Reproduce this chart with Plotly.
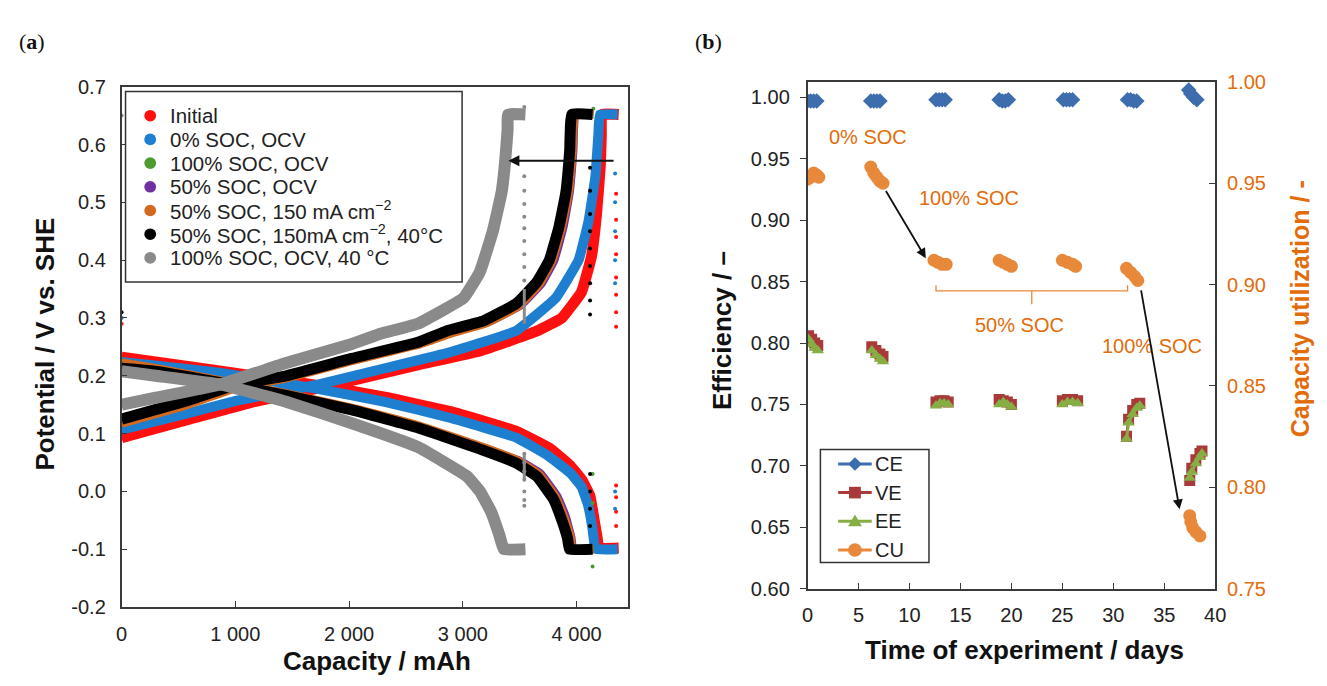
import plotly.graph_objects as go

FONT = "Liberation Sans"
# The page adds an 8 px body margin, so the figure is 16 px smaller than the 1327x686 window.
FW, FH = 1311, 670
OFF = 8


def X(p):  # window pixel -> paper x
    return (p - OFF) / FW


def Y(p):  # window pixel -> paper y
    return 1 - (p - OFF) / FH


# ---------------- Panel (a) data : capacity (mAh) vs potential (V vs. SHE) ----------------
series_names = ["Initial", "0% SOC, OCV", "100% SOC, OCV", "50% SOC, OCV",
                "50% SOC, 150 mA cm<sup>\u22122</sup>",
                "50% SOC, 150mA cm<sup>\u22122</sup>, 40\u00b0C",
                "100% SOC, OCV, 40 \u00b0C"]
series_colors = ["#FF1010", "#1E7FD0", "#4E9A2E", "#7030A0", "#D2691E", "#000000", "#8A8A8A"]

# Initial (red)
initial_chg_cap = [0, 578, 1157, 1880, 2603, 3150, 3644, 3870, 4043, 4130, 4174, 4208, 4217, 4222, 4370]
initial_chg_v   = [0.093, 0.124, 0.155, 0.185, 0.219, 0.243, 0.277, 0.30, 0.345, 0.406, 0.478, 0.562, 0.617, 0.652, 0.652]
initial_dis_cap = [0, 800, 1735, 2314, 2892, 3470, 3760, 3937, 4045, 4117, 4152, 4181, 4195, 4370]
initial_dis_v   = [0.232, 0.21, 0.183, 0.163, 0.138, 0.104, 0.075, 0.046, 0.02, -0.008, -0.047, -0.081, -0.098, -0.098]
# 0% SOC, OCV (blue)
soc0_chg_cap = [0, 578, 1012, 1735, 2314, 2892, 3470, 3818, 4017, 4104, 4165, 4191, 4205, 4360]
soc0_chg_v   = [0.107, 0.135, 0.157, 0.185, 0.213, 0.241, 0.278, 0.335, 0.40, 0.467, 0.545, 0.617, 0.652, 0.652]
soc0_dis_cap = [0, 868, 1735, 2314, 2892, 3470, 3747, 3944, 4043, 4102, 4136, 4156, 4166, 4360]
soc0_dis_v   = [0.224, 0.205, 0.177, 0.155, 0.127, 0.093, 0.062, 0.032, 0.008, -0.025, -0.06, -0.09, -0.1, -0.1]
# 100% SOC, OCV (green)
soc100_chg_cap = [0, 578, 1012, 1446, 2024, 2603, 2900, 3200, 3490, 3675, 3785, 3868, 3928, 3962, 3982, 4150]
soc100_chg_v   = [0.12, 0.152, 0.181, 0.197, 0.227, 0.255, 0.275, 0.292, 0.322, 0.36, 0.40, 0.457, 0.517, 0.59, 0.652, 0.652]
soc100_dis_cap = [0, 289, 955, 1446, 2024, 2603, 3181, 3480, 3665, 3815, 3890, 3945, 3962, 4150]
soc100_dis_v   = [0.218, 0.211, 0.187, 0.168, 0.143, 0.113, 0.075, 0.052, 0.03, -0.01, -0.045, -0.08, -0.1, -0.1]
# 50% SOC, OCV (purple)
soc50_chg_cap = [0, 578, 1012, 1446, 2024, 2603, 2900, 3220, 3510, 3695, 3805, 3885, 3940, 3972, 3990, 4145]
soc50_chg_v   = [0.12, 0.152, 0.181, 0.197, 0.227, 0.255, 0.275, 0.292, 0.322, 0.36, 0.40, 0.457, 0.517, 0.59, 0.652, 0.652]
soc50_dis_cap = [0, 289, 955, 1446, 2024, 2603, 3181, 3490, 3680, 3830, 3905, 3955, 3970, 4145]
soc50_dis_v   = [0.218, 0.211, 0.187, 0.168, 0.143, 0.113, 0.075, 0.054, 0.032, -0.008, -0.043, -0.08, -0.1, -0.1]
# 50% SOC, 150 mA cm-2 (orange)
soc50c_chg_cap = [0, 578, 1012, 1446, 2024, 2603, 2900, 3200, 3490, 3675, 3785, 3868, 3928, 3962, 3982, 4145]
soc50c_chg_v   = [0.118, 0.15, 0.18, 0.196, 0.226, 0.254, 0.274, 0.291, 0.321, 0.36, 0.40, 0.457, 0.517, 0.59, 0.652, 0.652]
soc50c_dis_cap = [0, 289, 955, 1446, 2024, 2603, 3181, 3480, 3665, 3815, 3890, 3945, 3962, 4145]
soc50c_dis_v   = [0.222, 0.213, 0.188, 0.169, 0.144, 0.114, 0.076, 0.053, 0.03, -0.01, -0.045, -0.08, -0.1, -0.1]
# 50% SOC, 150 mA cm-2, 40 C (black)
soc50t_chg_cap = [0, 578, 1012, 1446, 2024, 2603, 2863, 3181, 3470, 3650, 3760, 3844, 3905, 3939, 3957, 4140]
soc50t_chg_v   = [0.125, 0.157, 0.185, 0.2, 0.23, 0.258, 0.278, 0.295, 0.325, 0.362, 0.40, 0.457, 0.517, 0.59, 0.652, 0.652]
soc50t_dis_cap = [0, 289, 955, 1446, 2024, 2603, 3181, 3470, 3650, 3795, 3865, 3920, 3937, 4140]
soc50t_dis_v   = [0.213, 0.208, 0.185, 0.166, 0.141, 0.11, 0.071, 0.049, 0.026, -0.013, -0.047, -0.081, -0.1, -0.1]
# 100% SOC, OCV, 40 C (grey)
soc100t_chg_cap = [0, 300, 868, 1446, 2024, 2282, 2603, 3008, 3150, 3263, 3340, 3370, 3393, 3398, 3550]
soc100t_chg_v   = [0.15, 0.162, 0.185, 0.222, 0.255, 0.273, 0.29, 0.335, 0.38, 0.45, 0.517, 0.567, 0.625, 0.652, 0.652]
soc100t_dis_cap = [0, 300, 868, 1446, 2024, 2603, 3037, 3150, 3250, 3320, 3360, 3550]
soc100t_dis_v   = [0.208, 0.2, 0.185, 0.155, 0.118, 0.077, 0.026, 0.0, -0.036, -0.075, -0.1, -0.1]

# sparse points at the end of each half-cycle
initial_dots_cap = [4347] * 12 + [0]
initial_dots_v   = [0.515, 0.47, 0.44, 0.41, 0.37, 0.34, 0.31, 0.285, 0.01, -0.01, -0.035, -0.06, 0.29]
soc0_dots_cap = [4338] * 7 + [0]
soc0_dots_v   = [0.55, 0.50, 0.45, 0.40, 0.36, 0.0, -0.03, 0.30]
soc100_dots_cap = [4147, 4140, 4140, 4140]
soc100_dots_v   = [0.662, 0.03, -0.02, -0.13]
soc50t_dots_cap = [4118] * 13 + [0]
soc50t_dots_v   = [0.56, 0.52, 0.48, 0.45, 0.42, 0.39, 0.36, 0.33, 0.306, 0.03, 0.0, -0.03, -0.06, 0.31]
soc100t_dots_cap = [3540] * 17 + [0]
soc100t_dots_v   = [0.665, 0.545, 0.52, 0.497, 0.475, 0.455, 0.433, 0.41, 0.388, 0.365,
                    0.065, 0.05, 0.035, 0.02, 0.0, -0.015, -0.025, 0.65]
soc100t_seg_cap = [3540, 3540, None, 3540, 3540]
soc100t_seg_v   = [0.29, 0.35, None, 0.02, 0.065]

cap_ticks = [0, 1000, 2000, 3000, 4000]
cap_ticklabels = ["0", "1 000", "2 000", "3 000", "4 000"]
pot_ticks = [0.7, 0.6, 0.5, 0.4, 0.3, 0.2, 0.1, 0.0, -0.1, -0.2]
pot_ticklabels = ["0.7", "0.6", "0.5", "0.4", "0.3", "0.2", "0.1", "0.0", "-0.1", "-0.2"]

# ---------------- Panel (b) data : efficiencies vs time (days) ----------------
ce_days = [0.0, 0.3, 0.6, 0.9, None, 6.2, 6.5, 6.8, 7.1, None, 12.6, 12.9, 13.2, 13.5, None,
           18.8, 19.1, 19.4, 19.7, None, 25.1, 25.4, 25.7, 26.0, None, 31.4, 31.7, 32.0, 32.3, None,
           37.4, 37.6, 37.9, 38.2]
ce_vals = [0.997, 0.997, 0.997, 0.997, None, 0.997, 0.997, 0.997, 0.997, None, 0.998, 0.998, 0.998, 0.998, None,
           0.998, 0.997, 0.997, 0.998, None, 0.998, 0.998, 0.998, 0.998, None, 0.998, 0.998, 0.997, 0.997, None,
           1.006, 1.003, 1.000, 0.998]
ve_days = [0.1, 0.4, 0.7, 1.0, None, 6.3, 6.7, 7.1, 7.4, None, 12.6, 13.0, 13.4, 13.8, None,
           18.8, 19.2, 19.6, 20.0, None, 25.0, 25.5, 26.0, 26.5, None, 31.3, 31.5, 31.9, 32.3, 32.6, None,
           37.5, 37.7, 38.1, 38.5, 38.7]
ve_vals = [0.806, 0.803, 0.800, 0.798, None, 0.797, 0.794, 0.791, 0.789, None, 0.752, 0.753, 0.753, 0.752, None,
           0.754, 0.753, 0.752, 0.750, None, 0.753, 0.754, 0.754, 0.753, None, 0.724, 0.738, 0.745, 0.750, 0.751, None,
           0.688, 0.698, 0.705, 0.710, 0.712]
ee_days = ve_days
ee_vals = [0.803, 0.799, 0.796, 0.794, None, 0.794, 0.790, 0.787, 0.785, None, 0.749, 0.751, 0.751, 0.750, None,
           0.750, 0.752, 0.750, 0.748, None, 0.750, 0.752, 0.752, 0.751, None, 0.722, 0.735, 0.742, 0.747, 0.749, None,
           0.690, 0.695, 0.702, 0.707, 0.710]
cu_days = [0.0, 0.3, 0.6, 0.9, 1.1, None, 6.2, 6.5, 6.8, 7.1, 7.4, None, 12.4, 12.8, 13.2, 13.6, None,
           18.8, 19.2, 19.6, 20.0, None, 25.0, 25.5, 26.0, 26.3, None, 31.3, 31.7, 32.1, 32.4, None,
           37.5, 37.6, 37.8, 38.1, 38.5]
cu_vals = [0.952, 0.953, 0.955, 0.954, 0.953, None, 0.958, 0.955, 0.953, 0.951, 0.950, None, 0.912, 0.911, 0.910, 0.910, None,
           0.912, 0.911, 0.910, 0.909, None, 0.912, 0.911, 0.910, 0.909, None, 0.908, 0.906, 0.904, 0.902, None,
           0.786, 0.783, 0.780, 0.778, 0.776]

eff_ticks = [0.60, 0.65, 0.70, 0.75, 0.80, 0.85, 0.90, 0.95, 1.00]
cu_ticks = [0.75, 0.80, 0.85, 0.90, 0.95, 1.00]
day_ticks = [0, 5, 10, 15, 20, 25, 30, 35, 40]
eff_names = ["CE", "VE", "EE", "CU"]

ORANGE_TXT = "#E36C0A"
CE_C, VE_C, EE_C, CU_C = "#3E6DAE", "#A83A3A", "#86AE45", "#E8883A"
eff_colors = [CE_C, VE_C, EE_C, CU_C]

fig = go.Figure()

chg = [(initial_chg_cap, initial_chg_v, initial_dis_cap, initial_dis_v),
       (soc0_chg_cap, soc0_chg_v, soc0_dis_cap, soc0_dis_v),
       (soc100_chg_cap, soc100_chg_v, soc100_dis_cap, soc100_dis_v),
       (soc50_chg_cap, soc50_chg_v, soc50_dis_cap, soc50_dis_v),
       (soc50c_chg_cap, soc50c_chg_v, soc50c_dis_cap, soc50c_dis_v),
       (soc50t_chg_cap, soc50t_chg_v, soc50t_dis_cap, soc50t_dis_v),
       (soc100t_chg_cap, soc100t_chg_v, soc100t_dis_cap, soc100t_dis_v)]
dots = {0: (initial_dots_cap, initial_dots_v), 1: (soc0_dots_cap, soc0_dots_v),
        2: (soc100_dots_cap, soc100_dots_v), 5: (soc50t_dots_cap, soc50t_dots_v),
        6: (soc100t_dots_cap, soc100t_dots_v)}
widths = [11, 10, 8, 8, 9, 11, 12]

for i, (cx, cy, dx, dy) in enumerate(chg):
    col = series_colors[i]
    for xs, ys in ((cx, cy), (dx, dy)):
        fig.add_trace(go.Scatter(x=xs, y=ys, mode="lines", xaxis="x", yaxis="y", name=series_names[i],
                                 line=dict(color=col, width=widths[i], shape="spline", smoothing=0.3),
                                 showlegend=False, hoverinfo="skip"))
    if i in dots:
        fig.add_trace(go.Scatter(x=dots[i][0], y=dots[i][1], mode="markers", xaxis="x", yaxis="y",
                                 marker=dict(color=col, size=4), showlegend=False, hoverinfo="skip"))
    if i == 6:
        fig.add_trace(go.Scatter(x=soc100t_seg_cap, y=soc100t_seg_v, mode="lines", xaxis="x", yaxis="y",
                                 line=dict(color=col, width=3), showlegend=False, hoverinfo="skip"))

# panel (b)
fig.add_trace(go.Scatter(x=ce_days, y=ce_vals, name=eff_names[0], mode="lines+markers", xaxis="x2", yaxis="y2",
                         line=dict(color=CE_C, width=3), marker=dict(symbol="diamond", size=12, color=CE_C),
                         connectgaps=False, showlegend=False))
fig.add_trace(go.Scatter(x=ve_days, y=ve_vals, name=eff_names[1], mode="lines+markers", xaxis="x2", yaxis="y2",
                         line=dict(color=VE_C, width=3), marker=dict(symbol="square", size=11, color=VE_C),
                         connectgaps=False, showlegend=False))
fig.add_trace(go.Scatter(x=ee_days, y=ee_vals, name=eff_names[2], mode="lines+markers", xaxis="x2", yaxis="y2",
                         line=dict(color=EE_C, width=3), marker=dict(symbol="triangle-up", size=11, color=EE_C),
                         connectgaps=False, showlegend=False))
fig.add_trace(go.Scatter(x=cu_days, y=cu_vals, name=eff_names[3], mode="lines+markers", xaxis="x2", yaxis="y3",
                         line=dict(color=CU_C, width=3), marker=dict(symbol="circle", size=13, color=CU_C),
                         connectgaps=False, showlegend=False))

AX = dict(showgrid=False, zeroline=False, showline=True, linecolor="#3a3a3a", linewidth=1.6,
          tickfont=dict(family=FONT, size=20, color="#222"), ticklen=6, tickcolor="#3a3a3a", tickwidth=1.4)

fig.update_layout(
    width=FW, height=FH, margin=dict(l=0, r=0, t=0, b=0),
    paper_bgcolor="white", plot_bgcolor="white",
    font=dict(family=FONT, size=20, color="#222"),
    xaxis=dict(AX, domain=[X(117), X(630)], anchor="y", range=[0, 4451], tickvals=cap_ticks,
               ticktext=cap_ticklabels, ticks="inside", mirror=True, ticklabelstandoff=8),
    yaxis=dict(AX, domain=[Y(616), Y(78)], anchor="x", range=[-0.2, 0.7], tickvals=pot_ticks,
               ticktext=pot_ticklabels, ticks="inside", mirror=True, ticklabelstandoff=10),
    xaxis2=dict(AX, domain=[X(812), X(1225)], anchor="y2", range=[0, 40], tickvals=day_ticks,
                ticks="inside", mirror=True, ticklabelstandoff=8),
    yaxis2=dict(AX, domain=[Y(597), Y(73)], anchor="x2", range=[0.6, 1.0126], tickvals=eff_ticks,
                tickformat=".2f", ticks="outside", ticklabelstandoff=6),
    yaxis3=dict(AX, overlaying="y2", side="right", anchor="x2", range=[0.75, 1.0], tickvals=cu_ticks,
                tickformat=".2f", ticks="inside", ticklabelstandoff=6,
                tickfont=dict(family=FONT, size=20, color=ORANGE_TXT)),
    showlegend=False,
)

ann = []
shapes = []
# legend for panel (a)
shapes.append(dict(type="rect", xref="paper", yref="paper", x0=X(121), x1=X(462), y0=Y(280), y1=Y(83),
                   line=dict(color="#333", width=1.5), fillcolor="white", layer="above"))
for i, name in enumerate(series_names):
    yc = 108 + 24.5 * i
    shapes.append(dict(type="circle", xref="paper", yref="paper", x0=X(140), x1=X(152),
                       y0=Y(yc + 6), y1=Y(yc - 6), fillcolor=series_colors[i],
                       line=dict(color=series_colors[i], width=0), layer="above"))
    ann.append(dict(text=name, x=X(164), y=Y(yc), xref="paper", yref="paper", showarrow=False,
                    xanchor="left", yanchor="middle", font=dict(family=FONT, size=20.5, color="#222")))

# legend for panel (b)
shapes.append(dict(type="rect", xref="paper", yref="paper", x0=X(825), x1=X(935), y0=Y(570), y1=Y(453),
                   line=dict(color="#333", width=1.5), fillcolor="white", layer="above"))
for i, name in enumerate(eff_names):
    yc = 468 + 29.7 * i
    col = eff_colors[i]
    shapes.append(dict(type="line", xref="paper", yref="paper", x0=X(843), x1=X(877), y0=Y(yc), y1=Y(yc),
                       line=dict(color=col, width=3), layer="above"))
    cxp = 860
    if i == 0:
        path = f"M {X(cxp - 7)},{Y(yc)} L {X(cxp)},{Y(yc - 7)} L {X(cxp + 7)},{Y(yc)} L {X(cxp)},{Y(yc + 7)} Z"
        shapes.append(dict(type="path", xref="paper", yref="paper", path=path, fillcolor=col,
                           line=dict(color=col, width=0), layer="above"))
    elif i == 1:
        shapes.append(dict(type="rect", xref="paper", yref="paper", x0=X(cxp - 6), x1=X(cxp + 6),
                           y0=Y(yc + 6), y1=Y(yc - 6), fillcolor=col, line=dict(color=col, width=0),
                           layer="above"))
    elif i == 2:
        path = f"M {X(cxp - 7)},{Y(yc + 5)} L {X(cxp)},{Y(yc - 7)} L {X(cxp + 7)},{Y(yc + 5)} Z"
        shapes.append(dict(type="path", xref="paper", yref="paper", path=path, fillcolor=col,
                           line=dict(color=col, width=0), layer="above"))
    else:
        shapes.append(dict(type="circle", xref="paper", yref="paper", x0=X(cxp - 7), x1=X(cxp + 7),
                           y0=Y(yc + 7), y1=Y(yc - 7), fillcolor=col, line=dict(color=col, width=0),
                           layer="above"))
    ann.append(dict(text=name, x=X(878), y=Y(yc), xref="paper", yref="paper", showarrow=False,
                    xanchor="left", yanchor="middle", font=dict(family=FONT, size=20, color="#222")))

ann.append(dict(text="(<b>a</b>)", x=X(26), y=Y(31), xref="paper", yref="paper", showarrow=False,
                xanchor="center", yanchor="middle", font=dict(family="Liberation Serif", size=22, color="#111")))
ann.append(dict(text="(<b>b</b>)", x=X(712), y=Y(31), xref="paper", yref="paper", showarrow=False,
                xanchor="center", yanchor="middle", font=dict(family="Liberation Serif", size=22, color="#111")))
TF = dict(family=FONT, size=26, color="#111")
ann.append(dict(text="<b>Capacity / mAh</b>", x=X(376), y=Y(672), xref="paper", yref="paper",
                showarrow=False, xanchor="center", yanchor="middle", font=TF))
ann.append(dict(text="<b>Potential / V vs. SHE</b>", x=X(39), y=Y(344), xref="paper", yref="paper",
                showarrow=False, xanchor="center", yanchor="middle", font=TF, textangle=-90))
ann.append(dict(text="<b>Time of experiment / days</b>", x=X(1032), y=Y(660), xref="paper", yref="paper",
                showarrow=False, xanchor="center", yanchor="middle", font=TF))
ann.append(dict(text="<b>Efficiency / \u2013</b>", x=X(726), y=Y(330), xref="paper", yref="paper",
                showarrow=False, xanchor="center", yanchor="middle", font=TF, textangle=-90))
ann.append(dict(text="<b>Capacity utilization / -</b>", x=X(1311), y=Y(308), xref="paper", yref="paper",
                showarrow=False, xanchor="center", yanchor="middle",
                font=dict(family=FONT, size=25, color=ORANGE_TXT), textangle=-90))
# left arrow
ann.append(dict(x=3400, y=0.572, ax=4338, ay=0.572, xref="x", yref="y", axref="x", ayref="y",
                showarrow=True, arrowhead=2, arrowsize=1.1, arrowwidth=2, arrowcolor="#111", text=""))
# right panel labels
OF = dict(family=FONT, size=20, color=ORANGE_TXT)
for t, xx, yy in [("0% SOC", 5.9, 0.9677), ("100% SOC", 15.8, 0.918), ("50% SOC", 20.8, 0.815),
                  ("100% SOC", 33.8, 0.7976)]:
    ann.append(dict(text=t, x=xx, y=yy, xref="x2", yref="y2", showarrow=False, font=OF,
                    xanchor="center", yanchor="middle"))
ann.append(dict(x=11.6, y=0.869, ax=7.6, ay=0.925, xref="x2", yref="y2", axref="x2", ayref="y2",
                showarrow=True, arrowhead=2, arrowsize=1.1, arrowwidth=1.8, arrowcolor="#111", text=""))
ann.append(dict(x=36.5, y=0.6646, ax=32.7, ay=0.844, xref="x2", yref="y2", axref="x2", ayref="y2",
                showarrow=True, arrowhead=2, arrowsize=1.1, arrowwidth=1.8, arrowcolor="#111", text=""))

shapes.append(dict(type="path", xref="x2", yref="y2",
                   path="M 12.6,0.847 L 12.6,0.8425 L 31.4,0.8425 L 31.4,0.847 M 22,0.8425 L 22,0.8315",
                   line=dict(color=CU_C, width=1.3)))
fig.update_layout(annotations=ann, shapes=shapes)

fig.write_html("out.html", config={"displayModeBar": False})
